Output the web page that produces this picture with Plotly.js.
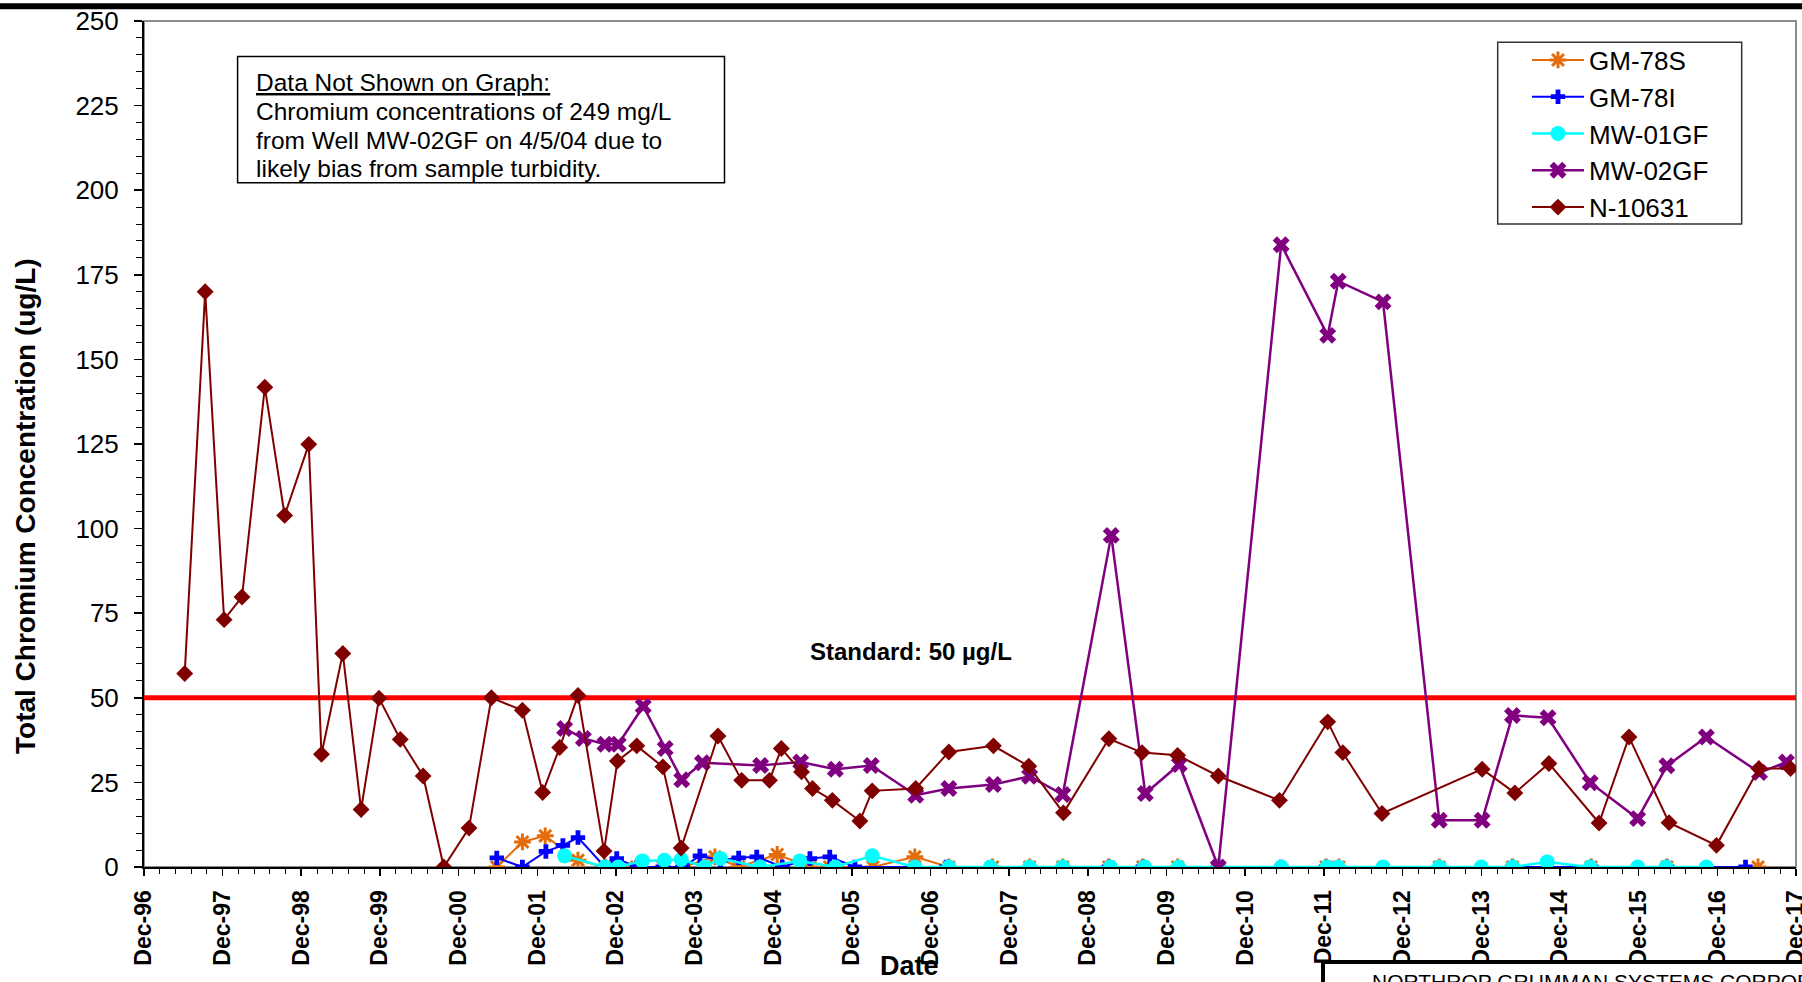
<!DOCTYPE html>
<html>
<head>
<meta charset="utf-8">
<script src="https://cdn.plot.ly/plotly-3.0.1.min.js"></script>
<style>
html, body { margin: 0; padding: 0; background: #ffffff; }
#chart { width: 1802px; height: 982px; }
</style>
</head>
<body>
<div id="chart"></div>
<script>
// ---------------- data ----------------
const seriesNames = ['GM-78S', 'GM-78I', 'MW-01GF', 'MW-02GF', 'N-10631'];

const gm78sDates = ['2001-05-27','2001-09-23','2002-01-07','2002-06-08','2002-10-11','2002-12-12','2003-03-08','2003-07-07','2003-10-07','2004-03-05','2004-06-23','2004-12-19','2005-05-20','2005-08-20','2006-03-08','2006-09-19','2007-02-24','2007-09-15','2008-03-05','2008-08-06','2009-03-08','2009-08-13','2010-01-21','2010-07-29','2011-12-12','2012-02-09','2013-05-20','2014-04-25','2015-04-25','2016-04-11','2017-06-08'];
const gm78sValues = [0,7.4,9.2,2.0,0,0,0,0,0,3.0,0,3.7,0,0,0,3.0,0,0,0,0,0,0,0,0,0,0,0,0,0,0,0];

const gm78iDates = ['2001-05-27','2001-09-23','2002-01-10','2002-03-30','2002-06-08','2002-10-11','2002-12-05','2003-03-08','2003-07-07','2003-10-07','2003-12-26','2004-03-30','2004-06-23','2004-09-15','2005-01-11','2005-05-20','2005-08-20','2005-12-15','2007-02-13','2009-03-08','2009-08-13','2010-07-29','2011-05-17','2011-12-12','2014-04-25','2015-04-25','2016-04-11','2017-04-11'];
const gm78iValues = [2.7,0,4.6,6.4,8.7,0,2.5,0,0,0,3.3,2.0,2.7,3.0,0,2.5,3.0,0,0,0,0,0,0,0,0,0,0,0];

const mw01gfDates = ['2002-04-07','2002-10-11','2002-12-12','2003-04-03','2003-07-14','2003-09-30','2004-01-18','2004-03-30','2004-09-30','2005-04-03','2005-09-15','2006-03-05','2006-09-19','2007-02-24','2007-09-05','2008-03-05','2008-08-06','2009-03-15','2009-08-20','2010-01-25','2010-07-30','2011-05-17','2011-12-15','2012-02-06','2012-09-01','2013-05-20','2013-12-01','2014-04-25','2014-10-03','2015-04-21','2015-11-27','2016-04-07','2016-10-11'];
const mw01gfValues = [3.3,0,0,1.8,2.0,2.2,0,2.5,0,1.8,0,3.3,0,0,0,0,0,0,0,0,0,0,0,0,0,0,0,0,1.5,0,0,0,0];

const mw02gfDates = ['2002-04-07','2002-07-03','2002-10-11','2002-12-12','2003-04-07','2003-07-18','2003-10-03','2004-01-07','2004-10-03','2005-04-07','2005-09-15','2006-03-01','2006-09-23','2007-02-24','2007-09-19','2008-03-05','2008-08-06','2009-03-19','2009-08-24','2010-01-29','2010-07-29','2011-05-17','2011-12-19','2012-02-06','2012-09-01','2013-05-20','2013-12-05','2014-04-25','2014-10-07','2015-04-21','2015-11-27','2016-04-11','2016-10-11','2017-06-15','2017-10-18'];
const mw02gfValues = [40.9,38.0,36.3,36.3,47.5,35.0,25.8,30.8,30.0,31.0,28.9,30.0,21.2,23.2,24.4,26.8,21.4,98.0,21.7,30.3,0,183.9,157.1,173.1,167.0,13.8,13.8,44.8,44.1,24.9,14.3,29.9,38.4,27.9,31.0];

const n10631Dates = ['1997-06-08','1997-09-11','1997-12-08','1998-03-01','1998-06-15','1998-09-15','1999-01-05','1999-03-05','1999-06-12','1999-09-05','1999-11-27','2000-03-05','2000-06-19','2000-09-23','2001-01-18','2001-05-02','2001-09-23','2001-12-26','2002-03-15','2002-06-08','2002-10-07','2002-12-08','2003-03-08','2003-07-07','2003-09-30','2004-03-19','2004-07-07','2004-11-13','2005-01-07','2005-04-11','2005-06-01','2005-09-01','2006-01-07','2006-03-05','2006-09-23','2007-02-24','2007-09-19','2008-03-01','2008-08-09','2009-03-08','2009-08-09','2010-01-21','2010-07-29','2011-05-09','2011-12-19','2012-02-27','2012-08-27','2013-12-05','2014-05-06','2014-10-11','2015-06-01','2015-10-18','2016-04-21','2016-11-27','2017-06-12','2017-11-06'];
const n10631Values = [57.2,170,73.1,79.8,141.8,103.9,124.9,33.3,63.1,17.0,49.9,37.7,26.9,0,11.5,50.0,46.3,22.0,35.3,50.7,4.7,31.3,35.8,29.6,5.6,38.7,25.6,25.6,35.0,28.1,23.2,19.7,13.6,22.5,23.2,34.0,35.8,29.8,16.0,37.9,33.8,33.0,26.9,19.7,42.9,33.8,15.8,28.9,21.9,30.6,13.0,38.4,13.1,6.4,29.1,29.1];

const standardValue = 50;
const standardLabel = 'Standard: 50 µg/L';
const xRangeStart = '1996-12-01';
const xRangeEnd = '2017-12-01 08:00';
const yRange = [0, 250];
const yTitle = 'Total Chromium Concentration (ug/L)';
const xTitle = 'Date';
const noteLines = ['<u>Data Not Shown on Graph:</u>', 'Chromium concentrations of 249 mg/L', 'from Well MW-02GF on 4/5/04 due to', 'likely bias from sample turbidity.'];
const footerText = 'NORTHROP GRUMMAN SYSTEMS CORPORATION';

// ---------------- traces ----------------
const FONT = 'Arial, "Liberation Sans", sans-serif';

function mk(name, x, y, color, symbol, size, lineWidth, markerExtra) {
  return {
    type: 'scatter', mode: 'lines+markers', name: name, x: x, y: y,
    line: { color: color, width: lineWidth },
    marker: Object.assign({ color: color, symbol: symbol, size: size, line: { width: 0 } }, markerExtra || {}),
    hoverinfo: 'x+y+name'
  };
}

const data = [
  mk(seriesNames[0], gm78sDates, gm78sValues, '#E46C0A', 'asterisk-open', 14, 2, { line: { color: '#E46C0A', width: 3 } }),
  mk(seriesNames[1], gm78iDates, gm78iValues, '#0000FF', 'cross', 12, 2),
  mk(seriesNames[2], mw01gfDates, mw01gfValues, '#00FFFF', 'circle', 15, 2.5),
  mk(seriesNames[3], mw02gfDates, mw02gfValues, '#800080', 'x', 15, 2.5),
  mk(seriesNames[4], n10631Dates, n10631Values, '#800000', 'diamond', 13, 2)
];

// pixel helpers for layout positions (plot area: l=144, t=21, w=1652, h=846)
const L = 144, T = 21, W = 1652, H = 846;
const px = v => (v - L) / W;
const py = v => (T + H - v) / H;

const layout = {
  width: 1802, height: 982,
  margin: { l: L, r: 1802 - L - W, t: T, b: 982 - T - H, pad: 0 },
  paper_bgcolor: '#ffffff', plot_bgcolor: '#ffffff',
  font: { family: FONT, color: '#000000' },
  showlegend: true,
  legend: {
    x: px(1527), y: py(36.5), xanchor: 'left', yanchor: 'top',
    bgcolor: 'rgba(0,0,0,0)', borderwidth: 0,
    font: { family: FONT, size: 26, color: '#000' },
    itemwidth: 52, traceorder: 'normal'
  },
  xaxis: {
    type: 'date', range: [xRangeStart, xRangeEnd], tick0: xRangeStart, dtick: 'M12',
    tickformat: '%b-%y', tickangle: -90,
    ticks: 'outside', ticklen: 7, tickwidth: 1.5, tickcolor: '#000',
    showline: true, linecolor: '#000', linewidth: 2, showgrid: false, zeroline: false,
    tickfont: { family: FONT, size: 23, color: '#000', weight: 'bold' },
    ticklabelstandoff: 5,
    ticklabeloverflow: 'allow',
    minor: { tick0: xRangeStart, dtick: 73.05 * 86400000, ticks: 'outside', ticklen: 5, tickwidth: 1, tickcolor: '#000', showgrid: false },
    fixedrange: true
  },
  yaxis: {
    range: yRange, tick0: 0, dtick: 25,
    ticks: 'outside', ticklen: 8, tickwidth: 1.5, tickcolor: '#000',
    showline: true, linecolor: '#000', linewidth: 2, showgrid: false, zeroline: false,
    tickfont: { family: FONT, size: 26, color: '#000' },
    ticklabelstandoff: 10,
    ticklabeloverflow: 'allow',
    minor: { dtick: 5, ticks: 'outside', ticklen: 6, tickwidth: 1, tickcolor: '#000', showgrid: false },
    fixedrange: true
  },
  shapes: [
    // plot-area frame (gray)
    { type: 'rect', xref: 'paper', yref: 'paper', x0: 0, x1: 1, y0: 0, y1: 1, line: { color: '#8c8c8c', width: 2 }, layer: 'below' },
    // standard line
    { type: 'line', xref: 'paper', yref: 'y', x0: 0, x1: 1, y0: standardValue, y1: standardValue, line: { color: '#FF0000', width: 5 }, layer: 'below' },
    // note box
    { type: 'rect', xref: 'paper', yref: 'paper', x0: px(237.6), x1: px(724.5), y0: py(182.8), y1: py(56.5), line: { color: '#000', width: 1.5 }, fillcolor: '#ffffff', layer: 'below' },
    // legend box
    { type: 'rect', xref: 'paper', yref: 'paper', x0: px(1497.7), x1: px(1741.7), y0: py(224), y1: py(42.3), line: { color: '#333', width: 1.5 }, fillcolor: 'rgba(0,0,0,0)', layer: 'above' },
    // top black band
    { type: 'rect', xref: 'paper', yref: 'paper', x0: px(0), x1: px(1802), y0: py(9.3), y1: py(3.3), line: { width: 0 }, fillcolor: '#000', layer: 'above' },
    // footer box
    { type: 'rect', xref: 'paper', yref: 'paper', x0: px(1323), x1: px(1830), y0: py(1000), y1: py(962), line: { color: '#000', width: 4 }, fillcolor: '#ffffff', layer: 'above' }
  ],
  annotations: [
    { text: yTitle, xref: 'paper', yref: 'paper', x: px(25), y: py(506), xanchor: 'center', yanchor: 'middle', textangle: -90, showarrow: false,
      font: { family: FONT, size: 28, color: '#000', weight: 'bold' } },
    { text: xTitle, xref: 'paper', yref: 'paper', x: px(909), y: py(966), xanchor: 'center', yanchor: 'middle', showarrow: false,
      font: { family: FONT, size: 27, color: '#000', weight: 'bold' } },
    { text: standardLabel, xref: 'paper', yref: 'paper', x: px(911), y: py(651.7), xanchor: 'center', yanchor: 'middle', showarrow: false,
      font: { family: FONT, size: 24, color: '#000', weight: 'bold' } },
    { text: footerText, xref: 'paper', yref: 'paper', x: px(1370), y: py(982), xanchor: 'left', yanchor: 'middle', showarrow: false,
      font: { family: FONT, size: 21, color: '#000' } }
  ].concat(noteLines.map((t, i) => ({
    text: t, xref: 'paper', yref: 'paper', x: px(254), y: py([82.7, 111.5, 140.2, 168.9][i]), xanchor: 'left', yanchor: 'middle', showarrow: false,
    font: { family: FONT, size: 24.5, color: '#000' }
  })))
};

Plotly.newPlot('chart', data, layout, { displayModeBar: false, staticPlot: true });
</script>
</body>
</html>
